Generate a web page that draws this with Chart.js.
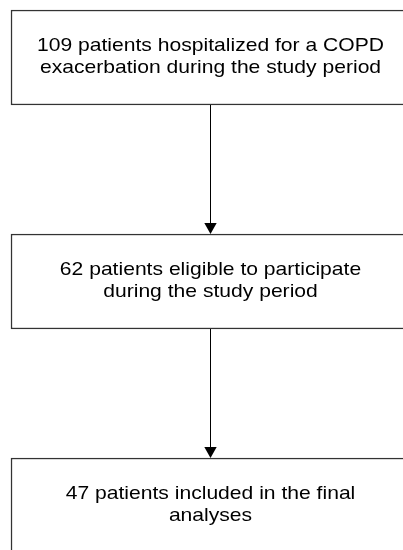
<!DOCTYPE html>
<html>
<head>
<meta charset="utf-8">
<script src="https://cdn.jsdelivr.net/npm/chart.js@4.4.1/dist/chart.umd.min.js"></script>
<style>
    html, body { margin: 0; padding: 0; background: #fff; }
    #wrap { width: 403px; height: 550px; position: relative; }
</style>
</head>
<body>
<div id="wrap"><canvas id="flow"></canvas></div>
<script>
'use strict';

// flow stages, top to bottom
const STAGES = [0, 1, 2];
const STAGE_COUNTS = [109, 62, 47];
const STAGE_LINES = [
    [' patients hospitalized for a COPD', 'exacerbation during the study period'],
    [' patients eligible to participate', 'during the study period'],
    [' patients included in the final', 'analyses']
];
// each box spans the full width of the flow
const BOX_SPAN = [0, 1];

const BORDER = '#333333';
const INK = '#000000';
const FONT = '18.5px "Liberation Sans", Arial, sans-serif';
const STRETCH = 1.14;
const LINE_HEIGHT = 22;
const HEAD_LEN = 11;
const HEAD_HALF = 6.2;

// arrows between consecutive boxes + the box captions
const flowPlugin = {
    id: 'flow',
    afterDatasetsDraw(chart) {
        let ctx = chart.ctx;
        let meta = chart.getDatasetMeta(0);
        let midX = Math.round(chart.scales.x.getPixelForValue((BOX_SPAN[0] + BOX_SPAN[1]) / 2)) + 0.5;
        let boxes = meta.data.map(bar => {
            let p = bar.getProps(['y', 'height'], true);
            return { top: p.y - p.height / 2, bottom: p.y + p.height / 2, cy: p.y };
        });

        ctx.save();
        ctx.strokeStyle = INK;
        ctx.fillStyle = INK;
        ctx.lineWidth = 1;
        for (let i = 0; i < boxes.length - 1; i++) {
            let from = boxes[i].bottom;
            let tip = boxes[i + 1].top;
            ctx.beginPath();
            ctx.moveTo(midX, from);
            ctx.lineTo(midX, tip - HEAD_LEN + 1);
            ctx.stroke();
            ctx.beginPath();
            ctx.moveTo(midX - HEAD_HALF, tip - HEAD_LEN);
            ctx.lineTo(midX + HEAD_HALF, tip - HEAD_LEN);
            ctx.lineTo(midX, tip);
            ctx.closePath();
            ctx.fill();
        }

        ctx.font = FONT;
        ctx.textAlign = 'center';
        ctx.textBaseline = 'alphabetic';
        boxes.forEach((box, i) => {
            let lines = STAGE_LINES[i].slice();
            lines[0] = STAGE_COUNTS[i] + lines[0];
            lines.forEach((line, j) => {
                let baseline = box.cy - 7 + j * LINE_HEIGHT;
                ctx.save();
                ctx.translate(midX, baseline);
                ctx.scale(STRETCH, 1);
                ctx.fillText(line, 0, 0);
                ctx.restore();
            });
        });
        ctx.restore();
    }
};

new Chart(document.getElementById('flow'), {
    type: 'bar',
    data: {
        datasets: [{
            data: STAGES.map(stage => ({ y: stage, x: BOX_SPAN })),
            backgroundColor: '#ffffff',
            borderColor: BORDER,
            borderWidth: 1.5,
            borderSkipped: false,
            barThickness: 95
        }]
    },
    options: {
        indexAxis: 'y',
        responsive: true,
        maintainAspectRatio: false,
        animation: false,
        events: [],
        layout: { padding: 0 },
        plugins: { legend: { display: false }, tooltip: { enabled: false } },
        scales: {
            x: { type: 'linear', display: false, min: -0.02764, max: 0.98492 },
            y: { type: 'linear', display: false, offset: false, reverse: true, min: -0.2567, max: 2.19866 }
        }
    },
    plugins: [flowPlugin]
});
</script>
</body>
</html>
